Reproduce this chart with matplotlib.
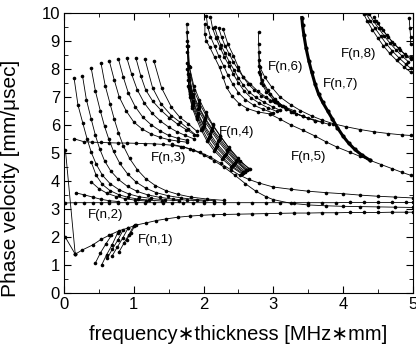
import matplotlib
matplotlib.use("Agg")
import matplotlib.pyplot as plt
from matplotlib.ticker import MultipleLocator

plt.rcParams['font.family'] = ['Liberation Sans', 'DejaVu Sans']

# ---- F(n,1) ----
f1_main_x = [0.16, 0.26, 0.41, 0.53, 0.65, 0.79, 0.91, 1.03, 1.18, 1.32, 1.46, 1.63, 1.8, 1.97, 2.13,
             2.3, 2.5, 2.7, 2.9, 3.1, 3.3, 3.5, 3.7, 3.9, 4.1, 4.3, 4.5, 4.7, 4.9, 5.0]
f1_main_y = [1.38, 1.53, 1.71, 1.91, 2.06, 2.22, 2.31, 2.42, 2.5, 2.58, 2.64, 2.7, 2.74, 2.77, 2.79,
             2.8, 2.81, 2.82, 2.83, 2.84, 2.85, 2.85, 2.86, 2.86, 2.87, 2.87, 2.87, 2.88, 2.88, 2.88]
f1_drops = [([0.02, 0.16], [1.98, 1.38]),
            ([0.02, 0.16], [5.09, 1.38])]
f1_fans = [([0.45, 0.52, 0.6, 0.68], [1.07, 1.42, 1.75, 2.05]),
           ([0.54, 0.61, 0.69, 0.77], [1.0, 1.36, 1.72, 2.15]),
           ([0.62, 0.69, 0.77, 0.85], [1.24, 1.55, 1.88, 2.25]),
           ([0.69, 0.76, 0.84, 0.92], [1.32, 1.62, 1.95, 2.32]),
           ([0.79, 0.86, 0.93, 1.0], [1.47, 1.78, 2.08, 2.4]),
           ([0.9, 0.96, 1.02], [1.9, 2.15, 2.42])]

# ---- F(n,2) ----
f2_flat_x = [0.02, 0.16, 0.29, 0.41, 0.53, 0.65, 0.78, 0.9, 1.03, 1.16, 1.29, 1.42, 1.55, 1.7, 1.85, 2.0,
             2.15, 2.3, 2.5, 2.7, 2.9, 3.1, 3.3, 3.5, 3.7, 3.9, 4.1, 4.3, 4.5, 4.7, 4.9, 5.0]
f2_flat_y = [3.21, 3.22, 3.22, 3.22, 3.22, 3.22, 3.22, 3.22, 3.22, 3.22, 3.22, 3.22, 3.22, 3.22, 3.22, 3.22,
             3.22, 3.22, 3.22, 3.22, 3.22, 3.22, 3.22, 3.22, 3.22, 3.22, 3.23, 3.23, 3.23, 3.23, 3.23, 3.23]
f2_fans = [([0.17, 0.29, 0.41, 0.53, 0.65, 0.78], [3.57, 3.5, 3.42, 3.34, 3.29, 3.26]),
           ([0.39, 0.5, 0.62, 0.75, 0.88, 1.02, 1.18], [3.96, 3.72, 3.55, 3.44, 3.36, 3.31, 3.28]),
           ([0.39, 0.46, 0.55, 0.66, 0.79, 0.92, 1.06, 1.22, 1.4],
            [4.67, 4.2, 3.87, 3.65, 3.5, 3.41, 3.35, 3.31, 3.28])]

# ---- F(n,3) ----
f3_fans = [
    ([0.144, 0.2, 0.27, 0.33, 0.39, 0.46, 0.55, 0.66, 0.79, 0.93, 1.08, 1.25, 1.45, 1.65],
     [7.66, 6.7, 6.05, 5.5, 5.02, 4.6, 4.2, 3.9, 3.68, 3.53, 3.43, 3.37, 3.32, 3.29]),
    ([0.264, 0.32, 0.39, 0.45, 0.51, 0.58, 0.67, 0.78, 0.91, 1.05, 1.2, 1.37, 1.56, 1.77, 2.0],
     [7.76, 6.9, 6.2, 5.62, 5.15, 4.72, 4.35, 4.05, 3.8, 3.62, 3.5, 3.41, 3.35, 3.31, 3.28]),
    ([0.39, 0.45, 0.52, 0.58, 0.64, 0.71, 0.8, 0.91, 1.03, 1.17, 1.32, 1.49, 1.68, 1.9, 2.15],
     [8.02, 7.2, 6.5, 5.95, 5.5, 5.05, 4.62, 4.25, 3.96, 3.74, 3.58, 3.47, 3.39, 3.33, 3.29]),
    ([0.53, 0.59, 0.66, 0.72, 0.78, 0.85, 0.94, 1.05, 1.17, 1.31, 1.46, 1.63, 1.82, 2.05, 2.3],
     [8.2, 7.4, 6.75, 6.2, 5.72, 5.25, 4.8, 4.4, 4.08, 3.83, 3.65, 3.52, 3.42, 3.35, 3.3]),
    ([0.65, 0.72, 0.79, 0.89, 1.0, 1.12, 1.25, 1.38, 1.5, 1.63, 1.76],
     [8.27, 7.6, 7.0, 6.5, 6.1, 5.85, 5.67, 5.55, 5.47, 5.42, 5.38]),
    ([0.78, 0.85, 0.92, 1.02, 1.13, 1.25, 1.38, 1.5, 1.63, 1.76],
     [8.35, 7.7, 7.15, 6.65, 6.27, 6.0, 5.78, 5.62, 5.52, 5.45]),
    ([0.9, 0.97, 1.05, 1.15, 1.26, 1.38, 1.5, 1.62, 1.74, 1.86],
     [8.39, 7.8, 7.25, 6.78, 6.42, 6.14, 5.92, 5.75, 5.62, 5.5]),
    ([1.03, 1.1, 1.17, 1.27, 1.39, 1.51, 1.63, 1.75, 1.87],
     [8.39, 7.75, 7.25, 6.85, 6.52, 6.25, 6.02, 5.83, 5.65]),
    ([1.16, 1.27, 1.39, 1.54, 1.66, 1.78, 1.9], [8.35, 7.32, 6.75, 6.33, 6.1, 5.86, 5.62]),
    ([1.29, 1.4, 1.54, 1.66, 1.78, 1.9], [8.27, 7.31, 6.63, 6.27, 6.04, 5.78]),
]
f3_upper_x = [0.144, 0.28, 0.4, 0.53, 0.65, 0.78, 0.9, 1.03, 1.16, 1.29, 1.42, 1.55, 1.68, 1.8, 1.95,
              2.1, 2.25, 2.4, 2.52, 2.65, 2.8, 3.0, 3.25, 3.5, 3.75, 4.0, 4.25, 4.5, 4.75, 5.0]
f3_upper_y = [5.5, 5.4, 5.38, 5.37, 5.36, 5.35, 5.35, 5.34, 5.33, 5.32, 5.3, 5.27, 5.22, 5.15, 5.02,
              4.85, 4.62, 4.38, 4.2, 4.05, 3.92, 3.78, 3.7, 3.63, 3.58, 3.54, 3.49, 3.45, 3.42, 3.39]
f3_lower_x = [1.55, 1.7, 1.85, 2.0, 2.15, 2.3, 2.45, 2.6, 2.75, 2.9, 3.0, 3.25, 3.5, 3.75, 4.0,
              4.25, 4.5, 4.75, 5.0]
f3_lower_y = [5.3, 5.22, 5.1, 4.93, 4.72, 4.48, 4.2, 3.9, 3.63, 3.43, 3.33, 3.2, 3.14, 3.11, 3.09,
              3.08, 3.07, 3.06, 3.05]

# ---- F(n,4) ----
f4_band = [
    ([1.78, 1.80, 1.84, 1.90, 1.97, 2.05, 2.15, 2.27, 2.40, 2.55], [7.4, 7.0, 6.6, 6.2, 5.8, 5.42, 5.08, 4.78, 4.5, 4.25]),
    ([1.78, 1.80, 1.84, 1.91, 1.98, 2.06, 2.16, 2.28, 2.41, 2.56], [7.6, 7.1, 6.66, 6.26, 5.86, 5.48, 5.14, 4.83, 4.53, 4.27]),
    ([1.78, 1.80, 1.85, 1.91, 1.99, 2.08, 2.18, 2.30, 2.43, 2.57], [7.8, 7.2, 6.72, 6.32, 5.92, 5.55, 5.2, 4.88, 4.57, 4.3]),
    ([1.77, 1.79, 1.85, 1.92, 2.0, 2.09, 2.19, 2.31, 2.44, 2.58], [8.0, 7.3, 6.78, 6.37, 5.97, 5.6, 5.25, 4.92, 4.6, 4.31]),
    ([1.77, 1.79, 1.85, 1.92, 2.0, 2.1, 2.2, 2.32, 2.45, 2.6], [8.2, 7.4, 6.85, 6.42, 6.02, 5.66, 5.3, 4.97, 4.63, 4.33]),
    ([1.77, 1.79, 1.85, 1.92, 2.01, 2.11, 2.21, 2.33, 2.46, 2.61], [8.6, 7.6, 6.98, 6.55, 6.15, 5.78, 5.42, 5.06, 4.7, 4.37]),
    ([1.77, 1.79, 1.85, 1.93, 2.02, 2.12, 2.22, 2.34, 2.47, 2.62], [8.8, 7.7, 7.04, 6.6, 6.2, 5.83, 5.47, 5.1, 4.72, 4.38]),
    ([1.77, 1.79, 1.85, 1.93, 2.02, 2.12, 2.23, 2.35, 2.48, 2.63], [9.0, 7.8, 7.1, 6.66, 6.25, 5.88, 5.52, 5.14, 4.75, 4.4]),
    ([1.76, 1.79, 1.86, 1.94, 2.03, 2.13, 2.24, 2.36, 2.5, 2.65], [9.3, 8.1, 7.25, 6.78, 6.36, 5.98, 5.6, 5.2, 4.8, 4.42]),
    ([1.76, 1.78, 1.80, 1.86, 1.94, 2.03, 2.13, 2.24, 2.37, 2.52, 2.67], [9.6, 8.8, 8.05, 7.4, 6.9, 6.45, 6.02, 5.6, 5.15, 4.7, 4.42]),
]

# ---- F(n,5) ----
f5_band = [
    ([2.02, 2.02, 2.04, 2.09, 2.16, 2.23, 2.28, 2.33, 2.41, 2.51, 2.63, 2.78, 2.95],
     [9.6, 9.24, 9.0, 8.77, 8.41, 8.05, 7.7, 7.34, 7.02, 6.76, 6.58, 6.46, 6.39]),
    ([2.04, 2.06, 2.1, 2.16, 2.22, 2.29, 2.35, 2.42, 2.5, 2.6, 2.72, 2.86, 3.0],
     [9.89, 9.5, 9.15, 8.8, 8.45, 8.1, 7.77, 7.45, 7.15, 6.9, 6.7, 6.55, 6.42]),
    ([2.1, 2.13, 2.18, 2.24, 2.3, 2.37, 2.43, 2.5, 2.58, 2.68, 2.8, 2.93, 3.05],
     [9.85, 9.45, 9.1, 8.75, 8.42, 8.1, 7.8, 7.5, 7.22, 6.97, 6.77, 6.6, 6.48]),
    ([2.16, 2.2, 2.25, 2.31, 2.37, 2.44, 2.5, 2.57, 2.65, 2.75, 2.87, 3.0, 3.1],
     [9.48, 9.15, 8.85, 8.55, 8.25, 7.95, 7.68, 7.42, 7.18, 6.98, 6.8, 6.63, 6.52]),
    ([2.22, 2.26, 2.31, 2.37, 2.43, 2.5, 2.57, 2.64, 2.73, 2.83, 2.95, 3.08, 3.18],
     [9.45, 9.12, 8.82, 8.52, 8.24, 7.96, 7.7, 7.46, 7.24, 7.04, 6.86, 6.7, 6.58]),
    ([2.28, 2.35, 2.43, 2.5, 2.57, 2.67, 2.78, 2.9, 3.03, 3.17, 3.3],
     [9.42, 8.88, 8.47, 8.05, 7.7, 7.46, 7.2, 6.98, 6.8, 6.64, 6.5]),
]
f5_tail_x = [2.95, 3.1, 3.25, 3.43, 3.6, 3.75, 3.91, 4.1, 4.25, 4.39, 4.55, 4.7, 4.85, 4.97]
f5_tail_y = [6.39, 6.2, 6.0, 5.8, 5.6, 5.4, 5.21, 5.02, 4.87, 4.73, 4.58, 4.44, 4.3, 4.2]

# ---- F(n,6) ----
f6_band = [
    ([2.79, 2.79, 2.81, 2.88, 2.98, 3.1, 3.25, 3.39, 3.55, 3.7, 3.86, 4.05, 4.25, 4.45, 4.65, 4.85, 4.97],
     [9.3, 8.88, 8.05, 7.7, 7.34, 6.99, 6.72, 6.51, 6.32, 6.17, 6.04, 5.93, 5.83, 5.75, 5.69, 5.64, 5.62]),
    ([2.79, 2.8, 2.84, 2.92, 3.02, 3.14, 3.28, 3.43, 3.6, 3.8], [8.6, 8.1, 7.6, 7.25, 6.93, 6.67, 6.46, 6.3, 6.15, 6.02]),
    ([2.79, 2.81, 2.86, 2.95, 3.06, 3.19, 3.33, 3.5, 3.7], [8.3, 7.8, 7.42, 7.1, 6.82, 6.58, 6.4, 6.24, 6.1]),
    ([2.8, 2.83, 2.9, 3.0, 3.12, 3.26, 3.42, 3.6], [7.9, 7.5, 7.18, 6.9, 6.66, 6.46, 6.3, 6.15]),
]

# ---- F(n,7) ----
f7_x = [3.41, 3.42, 3.44, 3.47, 3.51, 3.55, 3.6, 3.65, 3.71, 3.78, 3.85, 3.92, 4.0, 4.08, 4.17, 4.27, 4.39]
f7_y = [9.83, 9.55, 9.2, 8.75, 8.29, 7.9, 7.46, 7.1, 6.8, 6.5, 6.2, 5.9, 5.6, 5.35, 5.12, 4.92, 4.73]

# ---- F(n,8) ----
f8_band = [
    ([4.3, 4.35, 4.42, 4.5, 4.58, 4.67, 4.77, 4.87, 4.97], [9.95, 9.7, 9.4, 9.1, 8.82, 8.55, 8.3, 8.08, 7.88]),
    ([4.33, 4.39, 4.46, 4.54, 4.62, 4.71, 4.8, 4.9, 4.97], [9.98, 9.72, 9.45, 9.17, 8.9, 8.63, 8.4, 8.17, 8.02]),
    ([4.38, 4.44, 4.51, 4.59, 4.67, 4.76, 4.85, 4.94], [9.95, 9.7, 9.45, 9.18, 8.93, 8.68, 8.45, 8.25]),
    ([4.44, 4.5, 4.57, 4.65, 4.73, 4.82, 4.91, 4.97], [9.85, 9.62, 9.38, 9.13, 8.9, 8.67, 8.46, 8.35]),
    ([4.47, 4.55, 4.63, 4.71, 4.8, 4.89, 4.97], [9.72, 9.45, 9.2, 8.96, 8.73, 8.52, 8.41]),
    ([4.95, 4.96, 4.97, 4.97], [9.8, 9.45, 9.15, 8.9]),
]

label_text = ['F(n,1)', 'F(n,2)', 'F(n,3)', 'F(n,4)', 'F(n,5)', 'F(n,6)', 'F(n,7)', 'F(n,8)']
label_x = [1.31, 0.6, 1.5, 2.47, 3.51, 3.17, 3.96, 4.23]
label_y = [1.89, 2.78, 4.8, 5.76, 4.85, 8.05, 7.46, 8.53]

fig = plt.figure(figsize=(4.16, 3.55), dpi=100)
ax = fig.add_axes([0.154, 0.175, 0.838, 0.789])

style = dict(color='black', lw=0.6, marker='o', ms=2.6, mew=0)


def draw(curves):
    for xs, ys in curves:
        ax.plot(xs, ys, **style)


draw(f1_drops)
draw(f1_fans)
ax.plot(f1_main_x, f1_main_y, **style)
ax.plot(f2_flat_x, f2_flat_y, **style)
draw(f2_fans)
draw(f3_fans)
ax.plot(f3_upper_x, f3_upper_y, **style)
ax.plot(f3_lower_x, f3_lower_y, **style)
draw(f4_band)
draw(f5_band)
ax.plot(f5_tail_x, f5_tail_y, **style)
draw(f6_band)
ax.plot(f7_x, f7_y, color='black', lw=2.2, marker='o', ms=3, mew=0)
draw(f8_band)

for t, x, y in zip(label_text, label_x, label_y):
    ax.text(x, y, t, fontsize=9.5, ha='center', va='center')

ax.set_xlim(0, 5)
ax.set_ylim(0, 10)
ax.xaxis.set_major_locator(MultipleLocator(1))
ax.xaxis.set_minor_locator(MultipleLocator(0.5))
ax.yaxis.set_major_locator(MultipleLocator(1))
ax.yaxis.set_minor_locator(MultipleLocator(0.5))
ax.tick_params(which='both', direction='in', top=True, right=True, labelsize=12, pad=3)
ax.tick_params(which='major', length=5)
ax.tick_params(which='minor', length=3)
ax.set_xlabel('frequency\u2217thickness [MHz\u2217mm]', fontsize=14.5, labelpad=9)
ax.set_ylabel('Phase velocity [mm/\u03bcsec]', fontsize=15)
ax.yaxis.set_label_coords(-0.125, 0.41)

fig.savefig('out.png', dpi=100)
